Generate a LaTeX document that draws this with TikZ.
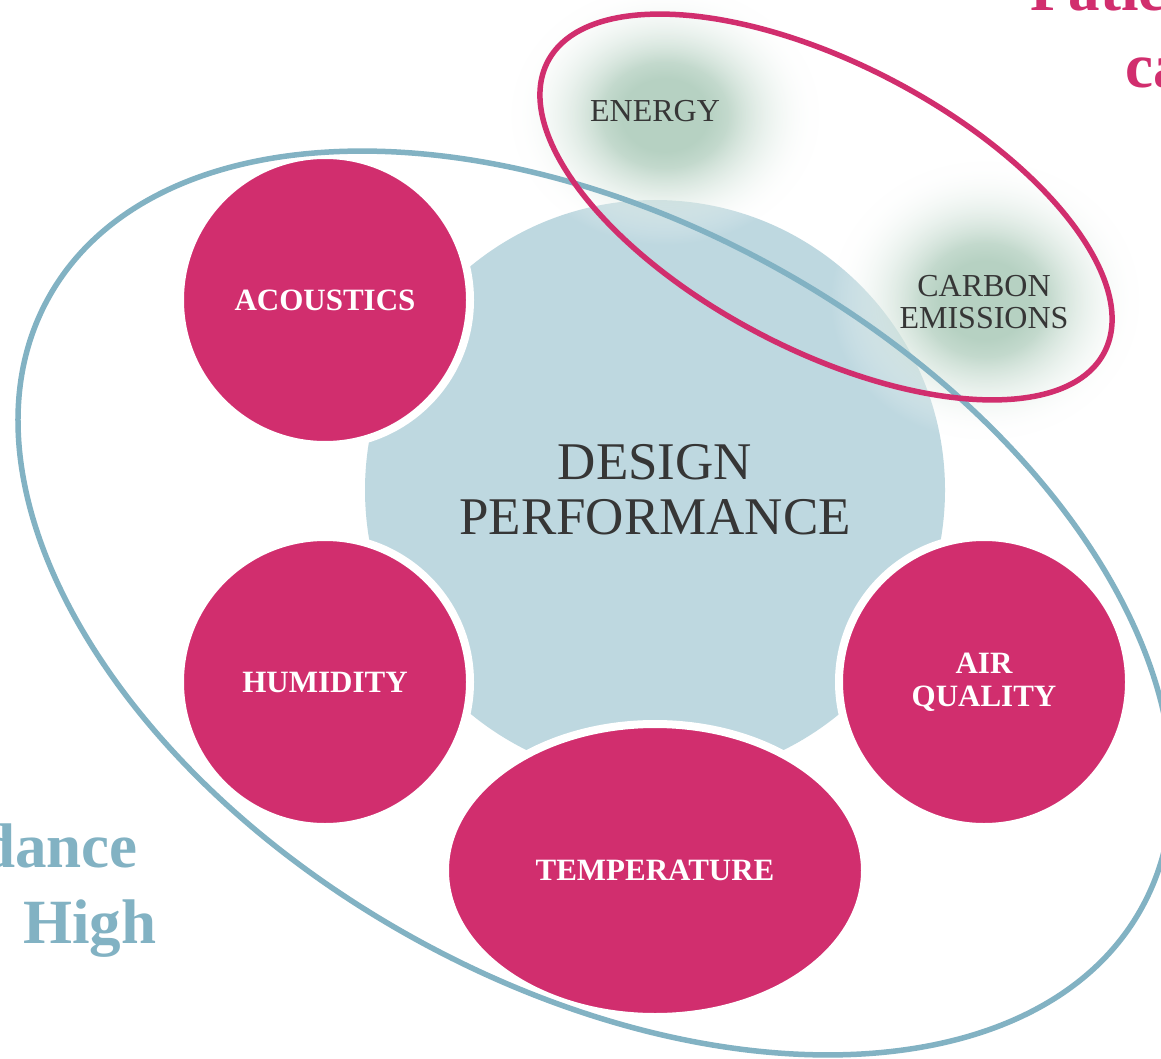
\documentclass[tikz,border=0pt]{standalone}
\usepackage{fontspec}
\setmainfont{Liberation Serif}
\usetikzlibrary{shapes.geometric,fadings}
\definecolor{pinkc}{HTML}{D12E6E}
\definecolor{corec}{HTML}{BED8E0}
\definecolor{bluel}{HTML}{82B2C3}
\definecolor{textgray}{HTML}{363636}
\definecolor{glowgreen}{HTML}{B6D1C2}
\pgfdeclareradialshading{glowshade}{\pgfpointorigin}{color(0bp)=(glowgreen); color(7bp)=(glowgreen); color(25bp)=(white); color(50bp)=(white)}
\pgfdeclareradialshading{glowmask}{\pgfpointorigin}{color(0bp)=(white); color(10bp)=(white); color(25bp)=(black); color(50bp)=(black)}
\pgfdeclarefading{glowfade}{\pgfuseshading{glowmask}}
\tikzset{
  coredisc/.style={circle, fill=corec, minimum size=580pt, inner sep=0pt, align=center,
    text=textgray, font=\fontsize{53}{55}\selectfont},
  pinkdisc/.style={circle, fill=pinkc, draw=white, line width=8pt, minimum size=290pt,
    inner sep=0pt, align=center, text=white, font=\bfseries\fontsize{31}{33}\selectfont},
  pinkoval/.style={pinkdisc, ellipse, minimum width=420pt, minimum height=293pt},
  glowspot/.style={shading=glowshade, path fading=glowfade},
  glowtext/.style={anchor=base, inner sep=0pt, text=textgray, font=\fontsize{32}{33}\selectfont},
  ring/.style={line width=5.5pt},
  sidetext/.style={inner sep=0pt, font=\bfseries\fontsize{63}{76}\selectfont},
}
\begin{document}
\begin{tikzpicture}[x=1pt,y=-1pt]
\useasboundingbox (0,0) rectangle (1161,1059);
\fill[white] (0,0) rectangle (1161,1059);
% central disc
\node[coredisc] (core) at (655,490) {DESIGN\\PERFORMANCE};
% surrounding discs
\node[pinkdisc] (acoustics) at (325,300) {ACOUSTICS};
\node[pinkdisc] (humidity) at (325,682) {HUMIDITY};
\node[pinkdisc] (airquality) at (984,682) {AIR\\QUALITY};
\node[pinkoval] (temperature) at (655,870.5) {TEMPERATURE};
% glows
\shade[glowspot] (665,115) ellipse [x radius=155pt, y radius=130pt];
\shade[glowspot] (985,300) ellipse [x radius=155pt, y radius=140pt];
% outlines
\draw[ring, draw=bluel, rotate around={-29.3:(595,603)}] (595,603) ellipse [x radius=626pt, y radius=381pt];
\draw[ring, draw=pinkc, rotate around={-27.6:(826,207)}] (826,207) ellipse [x radius=314pt, y radius=143pt];
% glow labels
\node[glowtext] (energy) at (655,122) {ENERGY};
\node[glowtext] (carbon) at (984,296) {CARBON};
\node[glowtext] (emissions) at (984,328) {EMISSIONS};
% cut-off side titles
\node[sidetext, text=pinkc, anchor=base west] (patie) at (1030,11) {Patie};
\node[sidetext, text=pinkc, anchor=base west] (ca) at (1125,88) {ca};
\node[sidetext, text=bluel, anchor=base east] (dance) at (138,867) {dance};
\node[sidetext, text=bluel, anchor=base west] (high) at (23,943) {High};
\end{tikzpicture}
\end{document}
